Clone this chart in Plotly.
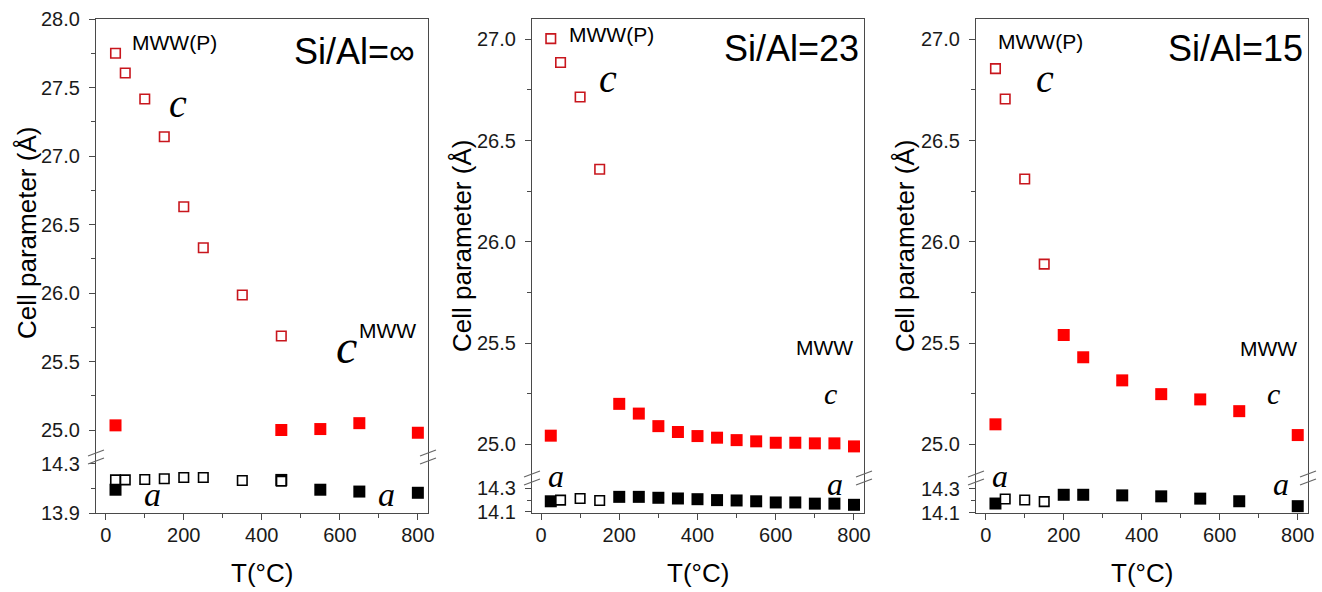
import plotly.graph_objects as go

W, H = 1322, 592

# ---------------- data ----------------
# Panel 1: Si/Al = inf
p1_T_open_c = [25, 50, 100, 150, 200, 250, 350, 450]
p1_c_open = [27.75, 27.606, 27.416, 27.14, 26.63, 26.33, 25.985, 25.686]
p1_T_fill_c = [25, 450, 550, 650, 800]
p1_c_fill = [25.034, 25.0, 25.007, 25.05, 24.98]
p1_T_open_a = [25, 50, 100, 150, 200, 250, 350, 450]
p1_a_open = [14.17, 14.17, 14.173, 14.18, 14.19, 14.19, 14.165, 14.16]
p1_T_fill_a = [25, 450, 550, 650, 800]
p1_a_fill = [14.09, 14.17, 14.09, 14.075, 14.065]

# Panel 2: Si/Al = 23
p2_T_open_c = [25, 50, 100, 150]
p2_c_open = [27.003, 26.885, 26.715, 26.358]
p2_T_fill_c = [25, 200, 250, 300, 350, 400, 450, 500, 550, 600, 650, 700, 750, 800]
p2_c_fill = [25.043, 25.2, 25.152, 25.09, 25.061, 25.041, 25.033, 25.021, 25.015,
             25.008, 25.008, 25.005, 25.005, 24.99]
p2_T_open_a = [50, 100, 150]
p2_a_open = [14.2, 14.214, 14.197]
p2_T_fill_a = [25, 200, 250, 300, 350, 400, 450, 500, 550, 600, 650, 700, 750, 800]
p2_a_fill = [14.19, 14.228, 14.228, 14.22, 14.214, 14.208, 14.2, 14.197, 14.19,
             14.18, 14.18, 14.17, 14.17, 14.16]

# Panel 3: Si/Al = 15
p3_T_open_c = [25, 50, 100, 150]
p3_c_open = [26.855, 26.705, 26.31, 25.89]
p3_T_fill_c = [25, 200, 250, 350, 450, 550, 650, 800]
p3_c_fill = [25.099, 25.54, 25.43, 25.316, 25.248, 25.222, 25.164, 25.046]
p3_T_open_a = [50, 100, 150]
p3_a_open = [14.215, 14.207, 14.193]
p3_T_fill_a = [25, 200, 250, 350, 450, 550, 650, 800]
p3_a_fill = [14.177, 14.25, 14.25, 14.245, 14.237, 14.218, 14.196, 14.155]

panel_titles = ["Si/Al=\u221e", "Si/Al=23", "Si/Al=15"]
x_title = "T(\u00b0C)"
y_title = "Cell parameter (\u00c5)"

panels = [
    dict(Toc=p1_T_open_c, oc=p1_c_open, Tfc=p1_T_fill_c, fc=p1_c_fill,
         Toa=p1_T_open_a, oa=p1_a_open, Tfa=p1_T_fill_a, fa=p1_a_fill),
    dict(Toc=p2_T_open_c, oc=p2_c_open, Tfc=p2_T_fill_c, fc=p2_c_fill,
         Toa=p2_T_open_a, oa=p2_a_open, Tfa=p2_T_fill_a, fa=p2_a_fill),
    dict(Toc=p3_T_open_c, oc=p3_c_open, Tfc=p3_T_fill_c, fc=p3_c_fill,
         Toa=p3_T_open_a, oa=p3_a_open, Tfa=p3_T_fill_a, fa=p3_a_fill),
]

# ---------------- layout geometry (pixels) ----------------
def px(x):
    return x / W

def py(y):
    return 1 - y / H

geo = [
    dict(left=96, right=428, top=19, brk=457, bottom=513,
         xr=[-25, 826], yu=[24.803, 28.0], yl=[13.9, 14.357],
         ud=0.5, um=0.25, ld=0.4, lt0=13.9, lm=0.2),
    dict(left=532, right=864, top=19, brk=478, bottom=513,
         xr=[-23, 825.6], yu=[24.834, 27.1], yl=[14.09, 14.389],
         ud=0.5, um=0.25, ld=0.2, lt0=14.1, lm=0.1),
    dict(left=976, right=1308, top=19, brk=478, bottom=513,
         xr=[-24.9, 826.3], yu=[24.834, 27.1], yl=[14.098, 14.39],
         ud=0.5, um=0.25, ld=0.2, lt0=14.1, lm=0.1),
]

AX = "#4a4a4a"
TICKFONT = dict(family="Liberation Sans, Arial, sans-serif", size=20, color="#1a1a1a")
RED_OPEN = "#c8161d"
RED_FILL = "#ff0000"

fig = go.Figure()
layout = {}

for i, (p, g) in enumerate(zip(panels, geo)):
    lo = 2 * i + 1
    up = 2 * i + 2
    xl = "x" if lo == 1 else f"x{lo}"
    yl = "y" if lo == 1 else f"y{lo}"
    xu = f"x{up}"
    yu = f"y{up}"
    xdom = [px(g["left"]), px(g["right"])]

    layout["xaxis" if lo == 1 else f"xaxis{lo}"] = dict(
        domain=xdom, anchor=yl, range=g["xr"], showline=True, linecolor=AX,
        linewidth=1.2, mirror=False, ticks="outside", ticklen=6, tickcolor=AX,
        tick0=0, dtick=200, tickfont=TICKFONT, showgrid=False, zeroline=False,
        automargin=False, ticklabelstandoff=-2,
        minor=dict(ticks="outside", ticklen=4, dtick=100, tick0=0, tickcolor=AX),
    )
    layout[f"xaxis{up}"] = dict(
        domain=xdom, anchor=yu, matches=xl, range=g["xr"], side="top",
        showline=True, linecolor=AX, linewidth=1.2, ticks="",
        showticklabels=False, showgrid=False, zeroline=False, automargin=False,
    )
    layout["yaxis" if lo == 1 else f"yaxis{lo}"] = dict(
        domain=[py(g["bottom"]), py(g["brk"])], anchor=xl, range=g["yl"],
        showline=True, linecolor=AX, linewidth=1.2, mirror=True,
        ticks="outside", ticklen=6, tickcolor=AX, tick0=g["lt0"], dtick=g["ld"],
        tickformat=".1f", tickfont=TICKFONT, showgrid=False, zeroline=False,
        ticklabelstandoff=5, automargin=False,
        minor=dict(ticks="outside", ticklen=4, dtick=g["lm"], tick0=g["lt0"], tickcolor=AX),
    )
    layout[f"yaxis{up}"] = dict(
        domain=[py(g["brk"]), py(g["top"])], anchor=xu, range=g["yu"],
        showline=True, linecolor=AX, linewidth=1.2, mirror=True,
        ticks="outside", ticklen=6, tickcolor=AX, tick0=0, dtick=g["ud"],
        tickformat=".1f", tickfont=TICKFONT, showgrid=False, zeroline=False,
        ticklabelstandoff=5, automargin=False,
        minor=dict(ticks="outside", ticklen=4, dtick=g["um"], tick0=0, tickcolor=AX),
    )

    # filled first, open (white-filled) on top
    fig.add_trace(go.Scatter(x=p["Tfc"], y=p["fc"], mode="markers", xaxis=xu, yaxis=yu,
                             marker=dict(symbol="square", size=12, color=RED_FILL,
                                         line=dict(width=0)), showlegend=False))
    fig.add_trace(go.Scatter(x=p["Toc"], y=p["oc"], mode="markers", xaxis=xu, yaxis=yu,
                             marker=dict(symbol="square", size=9.5, color="white",
                                         line=dict(width=1.6, color=RED_OPEN)),
                             showlegend=False))
    fig.add_trace(go.Scatter(x=p["Tfa"], y=p["fa"], mode="markers", xaxis=xl, yaxis=yl,
                             marker=dict(symbol="square", size=12, color="black",
                                         line=dict(width=0)), showlegend=False))
    fig.add_trace(go.Scatter(x=p["Toa"], y=p["oa"], mode="markers", xaxis=xl, yaxis=yl,
                             marker=dict(symbol="square", size=9.5, color="white",
                                         line=dict(width=1.6, color="black")),
                             showlegend=False))

# ---------------- annotations ----------------
SANS = "Liberation Sans, Arial, sans-serif"
SERIF = "Liberation Serif, Times New Roman, serif"
ann = []

def text(x, y, s, size, family=SANS, xanchor="center", angle=0, color="black"):
    ann.append(dict(x=px(x), y=py(y), xref="paper", yref="paper", text=s,
                    showarrow=False, xanchor=xanchor, yanchor="middle",
                    textangle=angle, font=dict(family=family, size=size, color=color)))

# panel titles
text(417, 52, panel_titles[0], 36, xanchor="right")
text(861, 48, panel_titles[1], 36, xanchor="right")
text(1305, 48, panel_titles[2], 36, xanchor="right")
# MWW(P)
text(130, 43, "MWW(P)", 21, xanchor="left")
text(567, 35, "MWW(P)", 21, xanchor="left")
text(996, 41, "MWW(P)", 21, xanchor="left")
# c labels (upper-left)
text(178, 104, "<i>c</i>", 40, SERIF)
text(608, 78, "<i>c</i>", 40, SERIF)
text(1045, 78, "<i>c</i>", 40, SERIF)
# MWW labels
text(357, 330, "MWW", 21, xanchor="left")
text(794, 347, "MWW", 21, xanchor="left")
text(1238, 348, "MWW", 21, xanchor="left")
# c labels (MWW)
text(346, 346, "<i>c</i>", 48, SERIF)
text(830, 393, "<i>c</i>", 30, SERIF)
text(1273, 393, "<i>c</i>", 30, SERIF)
# a labels
text(152, 494, "<i>a</i>", 34, SERIF)
text(387, 494, "<i>a</i>", 34, SERIF)
text(556, 476, "<i>a</i>", 32, SERIF)
text(835, 484, "<i>a</i>", 32, SERIF)
text(1000, 476, "<i>a</i>", 32, SERIF)
text(1281, 484, "<i>a</i>", 32, SERIF)
# axis titles
for xc in (262, 698, 1142):
    text(xc, 573, x_title, 26)
for xc, yc in ((27, 233), (462, 246), (905, 246)):
    text(xc, yc, y_title, 26, angle=-90)

# ---------------- axis-break marks ----------------
shapes = []
for g in geo:
    for xe in (g["left"], g["right"]):
        for dy in (-4, 4):
            yc = g["brk"] + dy
            shapes.append(dict(type="line", xref="paper", yref="paper",
                               x0=px(xe - 8), y0=py(yc + 3), x1=px(xe + 8), y1=py(yc - 3),
                               line=dict(color="#666666", width=1.2)))

layout.update(
    width=W, height=H, margin=dict(l=0, r=0, t=0, b=0, autoexpand=False),
    paper_bgcolor="white", plot_bgcolor="white",
    annotations=ann, shapes=shapes, showlegend=False,
)
fig.update_layout(**layout)
fig.write_html("out.html",
               config={"displayModeBar": False},
               post_script="document.body.style.margin='0px';"
                           "document.body.style.overflow='hidden';")
